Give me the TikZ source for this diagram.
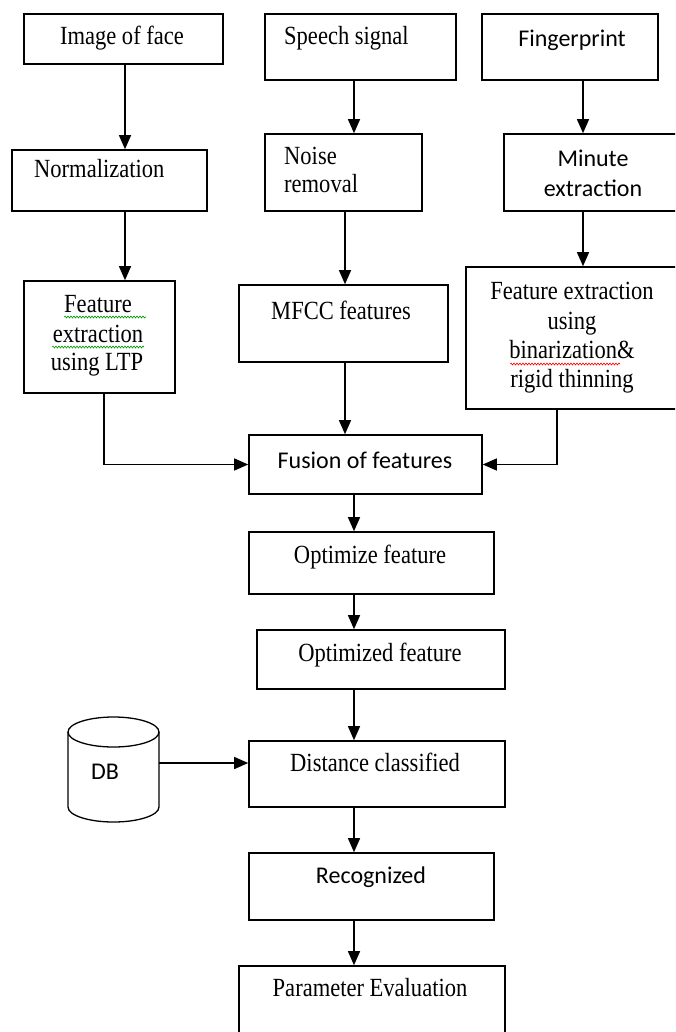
\documentclass[tikz,border=0pt]{standalone}
\usepackage{fontspec}
\setmainfont{Liberation Serif}
\newfontfamily\tnrfont[FakeStretch=0.86]{Liberation Serif}
\newfontfamily\calfont{Carlito}
\usetikzlibrary{arrows.meta,fit,decorations.pathmorphing}
\begin{document}
\begin{tikzpicture}[x=1pt,y=-1pt,
  box/.style={draw,line width=1.6pt,inner sep=0pt},
  serif/.style={font=\tnrfont\fontsize{26.2}{29}\selectfont,inner sep=0pt,anchor=base},
  sans/.style={font=\calfont\fontsize{24}{29}\selectfont,inner sep=0pt,anchor=base},
  arr/.style={line width=1.3pt,-{Triangle[length=14pt,width=12pt]}},
  wavy/.style={line width=0.6pt,decorate,decoration={snake,amplitude=1pt,segment length=3pt}}]
\clip (0,0) rectangle (675,1032);
\fill[white] (0,0) rectangle (675,1032);
% columns
\coordinate (cA) at (125,0);
\coordinate (cB) at (354,0);
\coordinate (cC) at (583,0);
\coordinate (cL) at (104,0);
\coordinate (cM) at (345,0);
\coordinate (cR) at (557,0);
\coordinate (cD) at (354,0);
% boxes
\node[box,fit={(24,14)(223,64)}] (face) {};
\node[box,fit={(265,14)(456,80)}] (speech) {};
\node[box,fit={(482,14)(658,80)}] (finger) {};
\node[box,fit={(12,150)(207,211)}] (norm) {};
\node[box,fit={(265,134)(422,211)}] (noise) {};
\node[box,fit={(504,134)(682,211)}] (minute) {};
\node[box,fit={(24,281)(175,393)}] (ltp) {};
\node[box,fit={(239,285)(448,362)}] (mfcc) {};
\node[box,fit={(466,267)(682,409)}] (bin) {};
\node[box,fit={(249,435)(482,494)}] (fusion) {};
\node[box,fit={(249,532)(494,594)}] (opt) {};
\node[box,fit={(257,630)(505,689)}] (optd) {};
\node[box,fit={(249,741)(505,807)}] (dist) {};
\node[box,fit={(249,853)(494,920)}] (rec) {};
\node[box,fit={(239,966)(505,1050)}] (param) {};
% DB cylinder
\draw[line width=1.3pt] (68,732) -- (68,807) arc[start angle=180,end angle=0,x radius=45.5,y radius=15] -- (159,732);
\draw[line width=1.3pt] (113.5,732) ellipse[x radius=45.5,y radius=15];
\coordinate (dbR) at (159,763);
% texts
\node[serif] (t1) at (122,45) {Image of face};
\node[serif,anchor=base west] (t2) at (284,45) {Speech signal};
\node[sans] (t3) at (572,47) {Fingerprint};
\node[serif,anchor=base west] (t4) at (34,178) {Normalization};
\node[serif,anchor=base west] (t5a) at (284,165) {Noise};
\node[serif,anchor=base west] (t5b) at (284,193) {removal};
\node[sans] (t6a) at (593,167) {Minute};
\node[sans] (t6b) at (593,197) {extraction};
\node[serif] (t7a) at (98,312) {Feature};
\node[serif] (t7b) at (98,342) {extraction};
\node[serif] (t7c) at (97,370) {using LTP};
\node[serif] (t8) at (341,319) {MFCC features};
\node[serif] (t9a) at (572,299) {Feature extraction};
\node[serif] (t9b) at (572,329) {using};
\node[serif] (t9c) at (572,358) {binarization\&};
\node[serif] (t9d) at (572,387) {rigid thinning};
\node[sans] (t10) at (365,468) {Fusion of features};
\node[serif] (t11) at (370,563) {Optimize feature};
\node[serif] (t12) at (380,661) {Optimized feature};
\node[serif] (t13) at (375,771) {Distance classified};
\node[sans] (t14) at (371,883) {Recognized};
\node[serif] (t15) at (370,996) {Parameter Evaluation};
\node[sans] (db) at (105,779) {DB};
% spell-check underlines
\draw[wavy,green!60!black] (64,317) -- (146,317);
\draw[wavy,green!60!black] (52,347) -- (144,347);
\draw[wavy,red] (510,364) -- (620,364);
% arrows
\draw[arr] (face.south -| cA) -- (norm.north -| cA);
\draw[arr] (norm.south -| cA) -- (ltp.north -| cA);
\draw[arr] (speech.south -| cB) -- (noise.north -| cB);
\draw[arr] (noise.south -| cM) -- (mfcc.north -| cM);
\draw[arr] (finger.south -| cC) -- (minute.north -| cC);
\draw[arr] (minute.south -| cC) -- (bin.north -| cC);
\draw[arr] (mfcc.south -| cM) -- (fusion.north -| cM);
\draw[arr] (ltp.south -| cL) |- (fusion.west);
\draw[arr] (bin.south -| cR) |- (fusion.east);
\draw[arr] (fusion.south -| cD) -- (opt.north -| cD);
\draw[arr] (opt.south -| cD) -- (optd.north -| cD);
\draw[arr] (optd.south -| cD) -- (dist.north -| cD);
\draw[arr] (dbR) -- (dbR -| dist.west);
\draw[arr] (dist.south -| cD) -- (rec.north -| cD);
\draw[arr] (rec.south -| cD) -- (param.north -| cD);
\end{tikzpicture}
\end{document}
